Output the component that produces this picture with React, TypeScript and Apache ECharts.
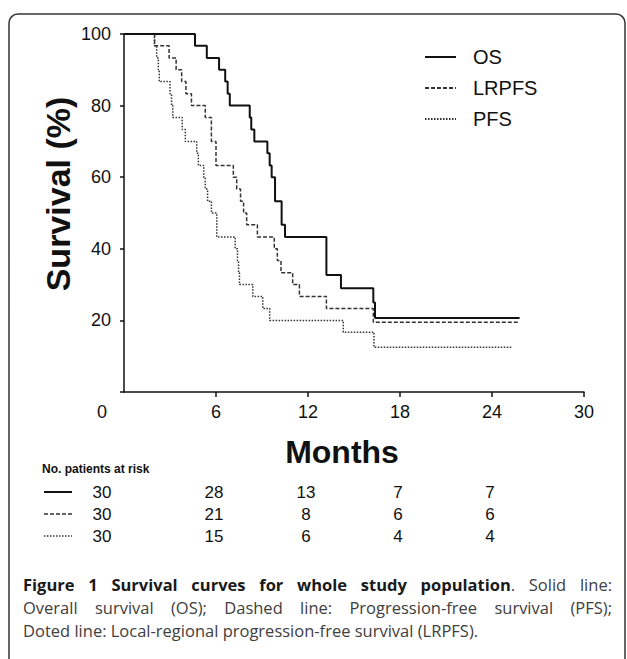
import React, { useEffect, useRef } from "react";
import * as echarts from "echarts";

const seriesNames = ["OS", "LRPFS", "PFS"];

const osMonths = [0, 4.63, 5.4, 6.2, 6.6, 6.76, 6.9, 8.2, 8.3, 8.5, 9.35, 9.5, 9.63, 9.85, 10.28, 10.5, 13.2, 14.15, 16.26, 16.37, 25.8];
const osSurvival = [100, 96.7, 93.3, 90, 86.7, 83.3, 80, 76.7, 73.3, 70, 66.7, 63.3, 60, 53.3, 46.7, 43.3, 32.7, 29, 25, 20.7, 20.7];

const lrpfsMonths = [0, 2.0, 2.94, 3.4, 3.76, 4.04, 4.4, 5.3, 5.7, 6.0, 7.13, 7.35, 7.6, 7.8, 8.0, 8.7, 9.8, 10.0, 10.24, 11.0, 11.44, 13.2, 16.26, 25.8];
const lrpfsSurvival = [100, 96.7, 93.3, 90, 86.7, 83.3, 80, 76.7, 70, 63.3, 60, 56.7, 53.3, 50, 46.7, 43.3, 40, 36.7, 33.3, 30, 26.7, 23.3, 19.5, 19.5];

const pfsMonths = [0, 1.98, 2.13, 2.24, 2.3, 3.0, 3.1, 3.18, 3.8, 4.0, 4.74, 4.85, 5.2, 5.3, 5.45, 5.7, 6.05, 7.25, 7.4, 7.47, 7.53, 8.4, 9.05, 9.5, 14.3, 16.3, 25.3];
const pfsSurvival = [100, 96.7, 93.3, 90, 86.7, 83.3, 80, 76.7, 73.3, 70, 66.7, 63.3, 60, 56.7, 53.3, 50, 43.3, 40, 36.7, 33.3, 30, 26.7, 23.3, 20, 16.7, 12.5, 12.5];

const xTickValues = [6, 12, 18, 24, 30];
const riskMonths = [0, 6, 12, 18, 24];
const osAtRisk = [30, 28, 13, 7, 7];
const lrpfsAtRisk = [30, 21, 8, 6, 6];
const pfsAtRisk = [30, 15, 6, 4, 4];

const yAxisTitle = "Survival (%)";
const xAxisTitle = "Months";
const riskTitle = "No. patients at risk";
const captionBold = "Figure 1 Survival curves for whole study population";
const captionRest = [
  ". Solid line:",
  "Overall survival (OS); Dashed line: Progression-free survival (PFS);",
  "Doted line: Local-regional progression-free survival (LRPFS).",
];

const FONT = "'Liberation Sans', Arial, sans-serif";
const CAP_FONT = "'Open Sans', sans-serif";
const CAP_SIZE = 16.5;
const INK = "#111";
const CAP_BOLD = "#1a1a1a";
const CAP_NORMAL = "#404040";

const lineStyles: any[] = [
  { color: "#111", width: 2, type: "solid" },
  { color: "#333", width: 1.5, type: [4, 2] },
  { color: "#333", width: 1.5, type: [1.5, 1.5] },
];

export default function App() {
  const ref = useRef<HTMLDivElement>(null);
  useEffect(() => {
    const chart = echarts.init(ref.current!, null, { renderer: "svg" });
    const pairs = (t: number[], s: number[]) => t.map((v, i) => [v, s[i]]);
    const data = [pairs(osMonths, osSurvival), pairs(lrpfsMonths, lrpfsSurvival), pairs(pfsMonths, pfsSurvival)];
    const axisLine = { color: INK, width: 1.5 };
    chart.setOption({
      animation: false,
      backgroundColor: "#fff",
      grid: { left: 124, right: 43, top: 34, bottom: 267, containLabel: false, outerBoundsMode: "none" },
      xAxis: {
        type: "value",
        min: 0,
        max: 30,
        interval: 6,
        axisLine: { show: true, onZero: false, lineStyle: axisLine },
        axisTick: { show: true, length: 5, lineStyle: axisLine, customValues: xTickValues },
        axisLabel: {
          fontFamily: FONT,
          fontSize: 18,
          color: INK,
          margin: 11,
          formatter: (v: number) => (v === 0 ? "{z|0}" : String(v)),
          rich: { z: { fontFamily: FONT, fontSize: 18, color: INK, padding: [0, 44, 0, 0] } },
        },
        splitLine: { show: false },
      },
      yAxis: {
        type: "value",
        min: 0,
        max: 100,
        interval: 20,
        axisLine: { show: true, onZero: false, lineStyle: axisLine },
        axisTick: { show: true, length: 4, lineStyle: axisLine },
        axisLabel: {
          fontFamily: FONT,
          fontSize: 18,
          color: INK,
          margin: 13,
          formatter: (v: number) => (v === 0 ? "" : String(v)),
        },
        splitLine: { show: false },
      },
      legend: {
        orient: "vertical",
        left: 419,
        top: 42,
        itemWidth: 31,
        itemHeight: 20,
        itemGap: 11,
        data: seriesNames,
        itemStyle: { opacity: 0 },
        textStyle: { fontFamily: FONT, fontSize: 20, color: INK, lineHeight: 20, padding: [0, 0, 0, 12] },
      },
      series: seriesNames.map((name, i) => ({
        name,
        type: "line",
        step: "end",
        symbol: "none",
        data: data[i],
        color: lineStyles[i].color,
        lineStyle: lineStyles[i],
        z: 3 - i,
      })),
    });

    const colX = riskMonths.map((m) => (chart.convertToPixel({ xAxisIndex: 0 }, m) as number) + (m === 0 ? -22 : -2));
    const rows = [osAtRisk, lrpfsAtRisk, pfsAtRisk];
    const rowY = [492, 514, 536];
    const graphics: any[] = [
      {
        type: "rect",
        shape: { x: 9, y: 14, width: 616, height: 700, r: 9 },
        style: { fill: "none", stroke: "#333", lineWidth: 1.5 },
        silent: true,
      },
      {
        type: "text",
        x: 58,
        y: 194,
        rotation: Math.PI / 2,
        style: { text: yAxisTitle, fontFamily: FONT, fontSize: 34, fontWeight: "bold", fill: INK, align: "center", verticalAlign: "middle" },
      },
      {
        type: "text",
        x: 342,
        y: 452,
        style: { text: xAxisTitle, fontFamily: FONT, fontSize: 32, fontWeight: "bold", fill: INK, align: "center", verticalAlign: "middle" },
      },
      {
        type: "text",
        x: 42,
        y: 469,
        style: { text: riskTitle, fontFamily: FONT, fontSize: 12, fontWeight: "bold", fill: INK, align: "left", verticalAlign: "middle" },
      },
    ];
    rows.forEach((row, r) => {
      graphics.push({
        type: "line",
        shape: { x1: 44, y1: rowY[r], x2: 72, y2: rowY[r] },
        style: { stroke: lineStyles[r].color, lineWidth: lineStyles[r].width, lineDash: r === 0 ? null : lineStyles[r].type },
      });
      row.forEach((n, c) => {
        graphics.push({
          type: "text",
          x: colX[c],
          y: rowY[r],
          style: { text: String(n), fontFamily: FONT, fontSize: 17, fill: INK, align: "center", verticalAlign: "middle" },
        });
      });
    });

    // Justified caption: measure words, spread them between left and right margins.
    const ctx = document.createElement("canvas").getContext("2d")!;
    const measure = (t: string, bold: boolean) => {
      ctx.font = (bold ? "bold " : "") + CAP_SIZE + "px 'Open Sans', sans-serif";
      return ctx.measureText(t).width;
    };
    type Seg = { t: string; b: boolean };
    const words = (t: string, b: boolean): Seg[][] => t.split(" ").map((w) => [{ t: w, b }]);
    const line1: Seg[][] = words(captionBold, true);
    const rest1 = captionRest[0];
    line1[line1.length - 1].push({ t: rest1.charAt(0), b: false });
    rest1.slice(1).trim().split(" ").forEach((w) => line1.push([{ t: w, b: false }]));
    const captionRows: { segs: Seg[][]; justify: boolean; y: number }[] = [
      { segs: line1, justify: true, y: 584 },
      { segs: words(captionRest[1], false), justify: true, y: 607 },
      { segs: words(captionRest[2], false), justify: false, y: 630 },
    ];
    const capLeft = 23;
    const capRight = 612;
    captionRows.forEach((row) => {
      const widths = row.segs.map((w) => w.reduce((s, g) => s + measure(g.t, g.b), 0));
      const total = widths.reduce((a, b) => a + b, 0);
      const gap = row.justify ? (capRight - capLeft - total) / (row.segs.length - 1) : measure(" ", false);
      let x = capLeft;
      row.segs.forEach((w, i) => {
        graphics.push({
          type: "text",
          x,
          y: row.y,
          style: {
            text: w.map((g) => "{" + (g.b ? "b" : "n") + "|" + g.t + "}").join(""),
            align: "left",
            verticalAlign: "middle",
            rich: {
              b: { fontFamily: CAP_FONT, fontSize: CAP_SIZE, fontWeight: "bold", fill: CAP_BOLD },
              n: { fontFamily: CAP_FONT, fontSize: CAP_SIZE, fill: CAP_NORMAL },
            },
          },
        });
        x += widths[i] + gap;
      });
    });

    chart.setOption({ graphic: graphics });
    return () => chart.dispose();
  }, []);
  return <div ref={ref} style={{ position: "fixed", left: 0, top: 0, width: 627, height: 659, background: "#fff" }} />;
}
